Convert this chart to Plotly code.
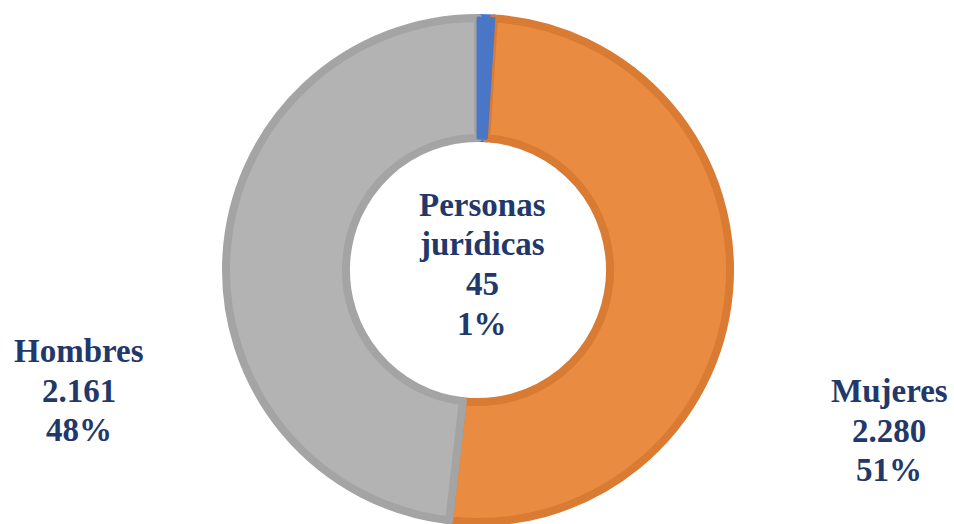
import plotly.graph_objects as go

# Data
categories = ["Personas jurídicas", "Mujeres", "Hombres"]
label_lines = [["Personas", "jurídicas"], ["Mujeres"], ["Hombres"]]
values = [45, 2280, 2161]
percent_labels = ["1%", "51%", "48%"]

fill_colors = ["#4A76C6", "#E98C41", "#B3B3B3"]
border_colors = ["#4A76C6", "#D97B32", "#A4A4A4"]

W, H = 954, 524
cx, cy, R = 478, 270, 252


def fmt(v):
    return f"{v:,}".replace(",", ".")


domain = dict(x=[(cx - R) / W, (cx + R) / W], y=[1 - (cy + R) / H, 1 - (cy - R) / H])

fig = go.Figure()
fig.add_trace(go.Pie(
    labels=categories,
    values=values,
    sort=False,
    direction="clockwise",
    rotation=0,
    hole=0.524,
    textinfo="none",
    hoverinfo="label+value+percent",
    marker=dict(colors=fill_colors, line=dict(color=border_colors, width=8)),
    domain=domain,
    showlegend=False,
))
# overlay the small slice so the neighbouring borders do not cover it
fig.add_trace(go.Pie(
    labels=categories,
    values=values,
    sort=False,
    direction="clockwise",
    rotation=0,
    hole=0.524,
    textinfo="none",
    hoverinfo="skip",
    marker=dict(colors=[fill_colors[0], "rgba(0,0,0,0)", "rgba(0,0,0,0)"],
                line=dict(color=[border_colors[0], "rgba(0,0,0,0)", "rgba(0,0,0,0)"], width=[3, 0, 0])),
    domain=domain,
    showlegend=False,
))

# label positions (pixel centres of the first line) and line spacing
label_pos = [(482, 205), (889, 391), (79, 351)]
spacing = 39.5
font = dict(family="Liberation Serif, Times New Roman, serif", size=33, color="#22386A")

annotations = []
for i, cat in enumerate(categories):
    lines = label_lines[i] + [fmt(values[i]), percent_labels[i]]
    x0, y0 = label_pos[i]
    for j, line in enumerate(lines):
        annotations.append(dict(
            x=x0 / W, y=1 - (y0 + j * spacing) / H, xref="paper", yref="paper",
            text=f"<b>{line}</b>", showarrow=False, font=font,
            xanchor="center", yanchor="middle",
        ))

fig.update_layout(
    width=W, height=H,
    margin=dict(l=0, r=0, t=0, b=0),
    paper_bgcolor="white", plot_bgcolor="white",
    annotations=annotations,
)

fig.write_html(
    "out.html",
    config={"displayModeBar": False},
    post_script="document.body.style.margin='0';document.body.style.overflow='hidden';",
)
